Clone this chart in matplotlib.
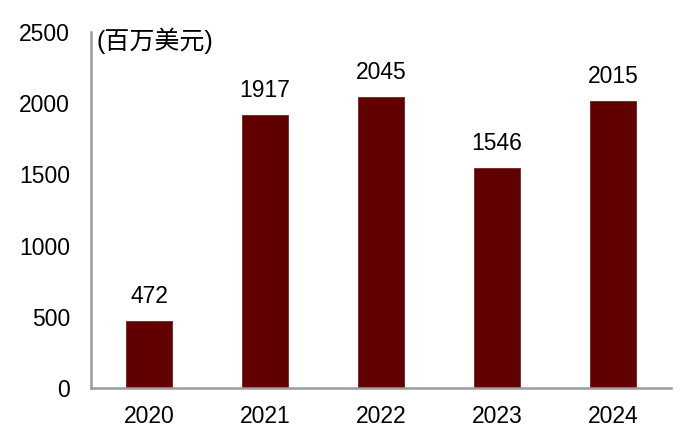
import matplotlib.pyplot as plt

plt.rcParams['font.family'] = ['Liberation Sans', 'Noto Sans CJK SC']

years = ['2020', '2021', '2022', '2023', '2024']
values = [472, 1917, 2045, 1546, 2015]

fig = plt.figure(figsize=(6.91, 4.44), dpi=100)
ax = fig.add_axes([0.1317, 0.126, 0.8393, 0.802])

bars = ax.bar(years, values, width=0.4, color='#600000', edgecolor='#7a2020', linewidth=0.6)
for b, v in zip(bars, values):
    ax.annotate(str(v), (b.get_x() + b.get_width() / 2, v), xytext=(0, 9.5),
                textcoords='offset points', ha='center', va='bottom', fontsize=16.5)

ax.set_ylim(0, 2500)
ax.set_xlim(-0.5, 4.5)
ax.set_yticks(range(0, 2501, 500))
ax.tick_params(axis='both', length=0, labelsize=16.5)
ax.tick_params(axis='y', pad=15)
ax.tick_params(axis='x', pad=12)

for s in ['top', 'right']:
    ax.spines[s].set_visible(False)
for s in ['left', 'bottom']:
    ax.spines[s].set_color('#9c9c9c')
    ax.spines[s].set_linewidth(1.8)

# 单位
ax.text(0.01, 0.975, '(百万美元)', transform=ax.transAxes, fontsize=18,
        ha='left', va='center', family=['Liberation Sans', 'Noto Sans CJK SC'])

plt.savefig('out.png', dpi=100)
